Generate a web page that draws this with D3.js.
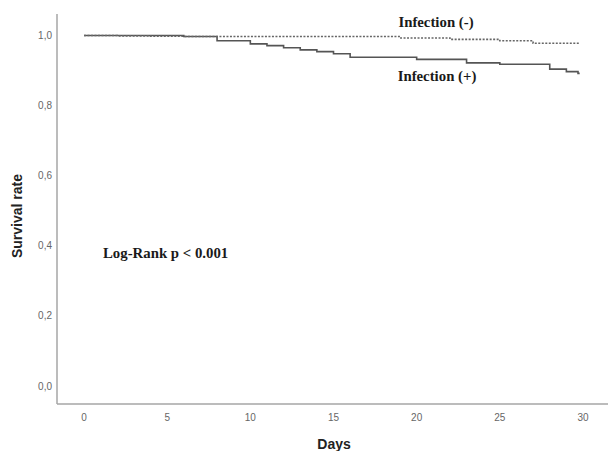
<!DOCTYPE html>
<html>
<head>
<meta charset="utf-8">
<script src="https://cdn.jsdelivr.net/npm/d3@7"></script>
<style>
  body { margin: 0; background: #fff; }
  svg { display: block; }
  .tick-label { font-family: 'Liberation Sans', Arial, sans-serif; font-size: 10px; fill: #666; }
  .axis-title { font-family: 'Liberation Sans', Arial, sans-serif; font-size: 14px; font-weight: bold; fill: #222; }
  .note { font-family: 'Liberation Serif', 'Times New Roman', serif; font-size: 14.8px; font-weight: bold; fill: #1a1a1a; }
</style>
</head>
<body>
<div id="chart"></div>
<script>
// tick labels
const xTicks = [0, 5, 10, 15, 20, 25, 30];
const yTicks = [0, 0.2, 0.4, 0.6, 0.8, 1.0];

// Infection (-) : dotted curve
const negDays = [0, 2, 4, 6, 19, 22, 25, 27, 29.8];
const negSurv = [1.0, 0.999, 0.998, 0.997, 0.993, 0.989, 0.985, 0.978, 0.978];

// Infection (+) : solid curve
const posDays = [0, 6, 8, 10, 11, 12, 13, 14, 15, 16, 20, 23, 25, 28, 29, 29.7, 29.8];
const posSurv = [1.0, 0.997, 0.985, 0.976, 0.971, 0.965, 0.959, 0.954, 0.948, 0.938, 0.932, 0.922, 0.918, 0.904, 0.897, 0.892, 0.892];

function init() {
  const width = 610;
  const height = 451;

  const svg = d3.select('#chart')
    .append('svg')
    .attr('width', width)
    .attr('height', height);

  const x = d3.scaleLinear().domain([0, 30]).range([84, 583]);
  const y = d3.scaleLinear().domain([0, 1]).range([386, 35.5]);

  // axis frame lines
  svg.append('line')
    .attr('x1', 57).attr('x2', 57)
    .attr('y1', 14).attr('y2', 404)
    .attr('stroke', '#a6a6a6').attr('stroke-width', 1.5);

  svg.append('line')
    .attr('x1', 57).attr('x2', 608)
    .attr('y1', 404).attr('y2', 404)
    .attr('stroke', '#a6a6a6').attr('stroke-width', 1.5);

  // y tick labels
  svg.selectAll('text.ylab')
    .data(yTicks)
    .join('text')
    .attr('class', 'tick-label ylab')
    .attr('x', 52)
    .attr('y', d => y(d))
    .attr('dy', '0.35em')
    .attr('text-anchor', 'end')
    .text(d => d3.format('.1f')(d).replace('.', ','));

  // x tick labels
  svg.selectAll('text.xlab')
    .data(xTicks)
    .join('text')
    .attr('class', 'tick-label xlab')
    .attr('x', d => x(d))
    .attr('y', 417)
    .attr('dy', '0.35em')
    .attr('text-anchor', 'middle')
    .text(d => d);

  // axis titles
  svg.append('text')
    .attr('class', 'axis-title')
    .attr('x', 334)
    .attr('y', 449)
    .attr('text-anchor', 'middle')
    .text('Days');

  svg.append('text')
    .attr('class', 'axis-title')
    .attr('transform', 'translate(22, 216) rotate(-90)')
    .attr('text-anchor', 'middle')
    .text('Survival rate');

  const step = d3.line()
    .curve(d3.curveStepAfter)
    .x(d => x(d[0]))
    .y(d => y(d[1]));

  // survival curves
  svg.append('path')
    .datum(d3.zip(posDays, posSurv))
    .attr('fill', 'none')
    .attr('stroke', '#555')
    .attr('stroke-width', 1.6)
    .attr('d', step);

  svg.append('path')
    .datum(d3.zip(negDays, negSurv))
    .attr('fill', 'none')
    .attr('stroke', '#666')
    .attr('stroke-width', 1.6)
    .attr('stroke-dasharray', '2,1.5')
    .attr('d', step);

  // annotations
  svg.append('text')
    .attr('class', 'note')
    .attr('x', 436)
    .attr('y', 27)
    .attr('text-anchor', 'middle')
    .text('Infection (-)');

  svg.append('text')
    .attr('class', 'note')
    .attr('x', 437)
    .attr('y', 81)
    .attr('text-anchor', 'middle')
    .text('Infection (+)');

  svg.append('text')
    .attr('class', 'note')
    .attr('x', 103)
    .attr('y', 258)
    .text('Log-Rank p < 0.001');
}

init();
</script>
</body>
</html>
